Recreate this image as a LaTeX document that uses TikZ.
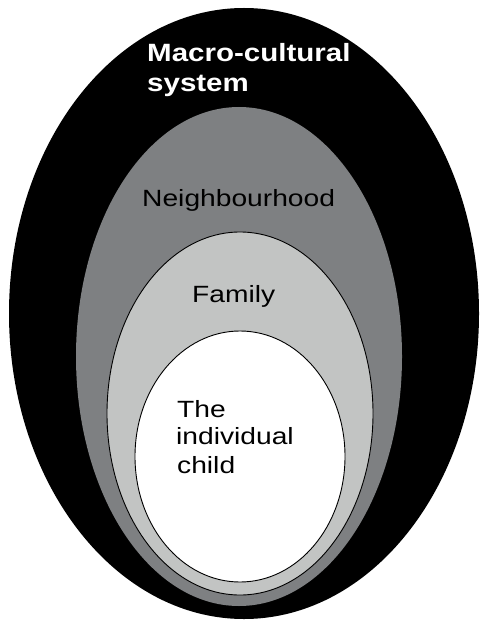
\documentclass[tikz,border=0pt]{standalone}
\usepackage{fontspec}
\setmainfont{Liberation Sans}
\usetikzlibrary{shapes.geometric}
\definecolor{midgray}{RGB}{126,128,130}
\definecolor{lightgray2}{RGB}{194,196,195}
\tikzset{
  ring/.style={ellipse, inner sep=0pt, outer sep=0pt},
  lbl/.style={anchor=base west, inner sep=0pt, font=\fontsize{23.5}{28}\selectfont},
  blbl/.style={anchor=base west, inner sep=0pt, text=white, font=\fontsize{25}{30}\selectfont\bfseries}
}
\newcommand{\wx}[1]{\scalebox{1.2}[1]{#1}}
\newcommand{\wb}[1]{\scalebox{1.18}[1]{#1}}
\begin{document}
\begin{tikzpicture}[x=1pt,y=-1pt]
\useasboundingbox (0,0) rectangle (481,620);
\fill[white] (0,0) rectangle (481,620);
\node[ring, fill=black, minimum width=470pt, minimum height=611pt] (macro) at (244,313.5) {};
\node[ring, fill=midgray, minimum width=326pt, minimum height=499pt] (neigh) at (239,356.5) {};
\node[ring, fill=lightgray2, draw=black, line width=0.9pt, minimum width=266pt, minimum height=363pt] (fam) at (240,413.5) {};
\node[ring, fill=white, draw=black, line width=0.9pt, minimum width=210pt, minimum height=251pt] (child) at (240,456.5) {};
\node[blbl] (t1) at (147,62) {\wb{Macro-cultural}};
\node[blbl] (t2) at (147,92) {\wb{system}};
\node[lbl] (t3) at (142,207) {\wx{Neighbourhood}};
\node[lbl] (t4) at (192,302) {\wx{Family}};
\node[lbl] (t5) at (177,417) {\wx{The}};
\node[lbl] (t6) at (176,444) {\wx{individual}};
\node[lbl] (t7) at (177,473) {\wx{child}};
\end{tikzpicture}
\end{document}
